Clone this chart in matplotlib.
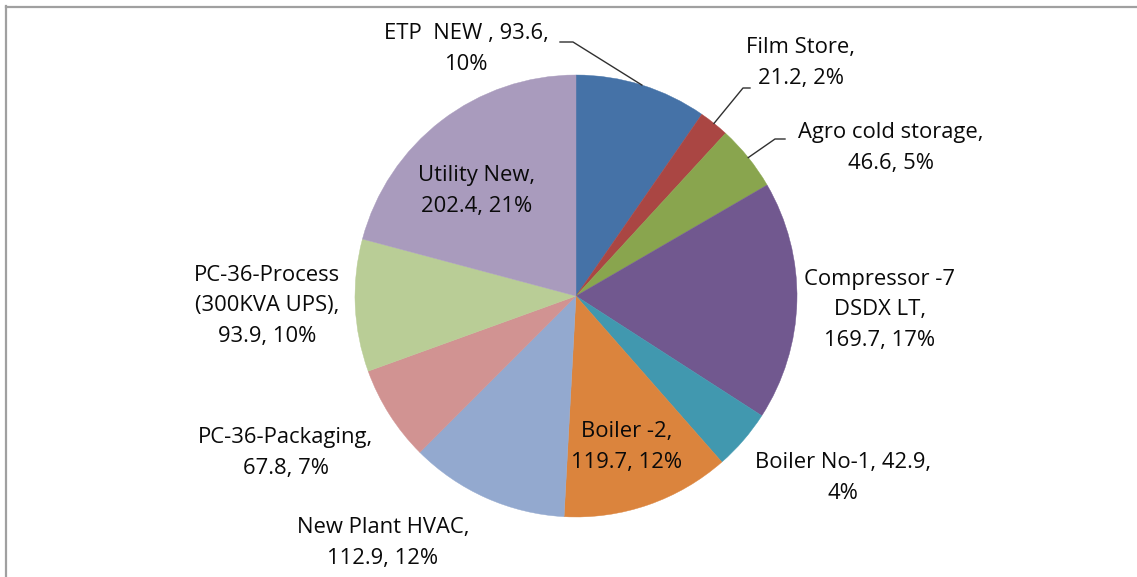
import matplotlib
matplotlib.use("Agg")
import matplotlib.pyplot as plt
import numpy as np

# ---- data ----
categories = ["ETP  NEW ", "Film Store", "Agro cold storage", "Compressor -7\nDSDX LT",
              "Boiler No-1", "Boiler -2", "New Plant HVAC", "PC-36-Packaging",
              "PC-36-Process\n(300KVA UPS)", "Utility New"]
values = [93.6, 21.2, 46.6, 169.7, 42.9, 119.7, 112.9, 67.8, 93.9, 202.4]
colors = ["#4572A7", "#AA4643", "#89A54E", "#71588F", "#4198AF",
          "#DB843D", "#93A9CF", "#D19392", "#B9CD96", "#A99BBD"]
label_formats = ["{c}, {v},\n{p}%", "{c},\n{v}, {p}%", "{c},\n{v}, {p}%", "{c},\n{v}, {p}%",
                 "{c}, {v},\n{p}%", "{c},\n{v}, {p}%", "{c},\n{v}, {p}%", "{c},\n{v}, {p}%",
                 "{c},\n{v}, {p}%", "{c},\n{v}, {p}%"]

# ---- layout (pixel coordinates, y downward) ----
W, H = 1137, 577
pie_center_px = (576, 296)
pie_radius = 221
label_pos_px = [(466, 49), (801, 63), (891, 148), (880, 310), (843, 478),
                (627, 447), (383, 543), (286, 453), (267, 306), (477, 191)]
leader_px = {0: [(560, 42), (573, 42)], 1: [(750, 88), (743, 88)], 2: [(785, 139), (775, 139)]}

def P(x, y):
    return (x, H - y)

plt.rcParams['font.family'] = ['Open Sans', 'DejaVu Sans']
fig = plt.figure(figsize=(W / 100, H / 100), dpi=100)
ax = fig.add_axes([0, 0, 1, 1])
cx, cy = P(*pie_center_px)
wedges, _ = ax.pie(values, colors=colors, startangle=90, counterclock=False,
                   center=(cx, cy), radius=pie_radius,
                   wedgeprops=dict(linewidth=0.3, edgecolor="white"), frame=False)
for w, c in zip(wedges, colors):
    w.set_edgecolor(c)
ax.set_xlim(0, W)
ax.set_ylim(0, H)
ax.set_aspect('auto')
ax.axis('off')

total = sum(values)
for i, (cat, v) in enumerate(zip(categories, values)):
    pct = int(round(v / total * 100))
    txt = label_formats[i].format(c=cat, v=f"{v:.1f}", p=pct)
    x, y = P(*label_pos_px[i])
    ax.text(x, y, txt, ha='center', va='center', fontsize=15.8, color='#0a0a0a',
            linespacing=1.58)
    if i in leader_px:
        w = wedges[i]
        mid = np.deg2rad((w.theta1 + w.theta2) / 2)
        ex, ey = cx + pie_radius * np.cos(mid), cy + pie_radius * np.sin(mid)
        pts = [P(*p) for p in leader_px[i]] + [(ex, ey)]
        ax.plot([p[0] for p in pts], [p[1] for p in pts], color='#303030', lw=1.0)

# chart frame
fig.add_artist(plt.Line2D([6 / W, 6 / W], [0, 1 - 6 / H], color='#A0A0A0', lw=1.6))
fig.add_artist(plt.Line2D([6 / W, 1], [1 - 6.5 / H, 1 - 6.5 / H], color='#A0A0A0', lw=1.6))

fig.savefig("out.png", dpi=100)
